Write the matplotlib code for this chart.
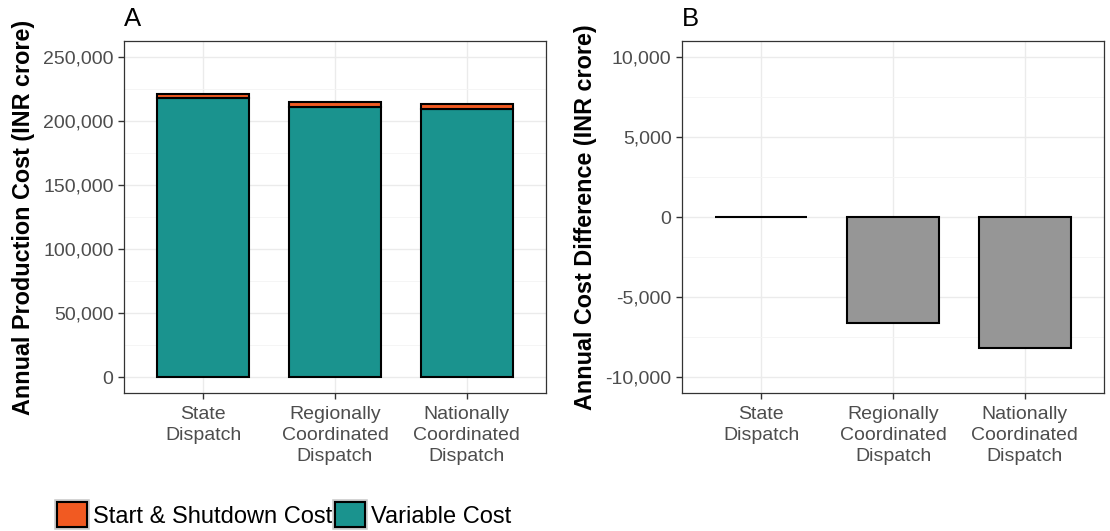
import matplotlib.pyplot as plt
import matplotlib.patheffects as pe
from matplotlib.patches import Patch
from matplotlib.ticker import FuncFormatter, MultipleLocator

plt.rcParams['font.family'] = ['Liberation Sans', 'DejaVu Sans']

scenarios = ["State\nDispatch", "Regionally\nCoordinated\nDispatch", "Nationally\nCoordinated\nDispatch"]
variable_cost = [217700, 210900, 209300]
start_cost = [3600, 3800, 3800]

total_cost = [v + s for v, s in zip(variable_cost, start_cost)]
cost_diff = [t - total_cost[0] for t in total_cost]

orange = "#F15A22"
teal = "#1A938E"
grey_bar = "#969696"
tick_col = "#4D4D4D"
frame_col = "#333333"

fig = plt.figure(figsize=(11.1, 5.31), dpi=100)
axA = fig.add_axes([124 / 1110, 138 / 531, 422 / 1110, 352 / 531])
axB = fig.add_axes([682 / 1110, 138 / 531, 422 / 1110, 352 / 531])

x = range(len(scenarios))
comma = FuncFormatter(lambda v, p: f"{v:,.0f}")


def style(ax):
    ax.set_xlim(-0.6, 2.6)
    ax.set_xticks(list(x))
    ax.set_xticklabels(scenarios, linespacing=1.3)
    ax.yaxis.set_major_formatter(comma)
    ax.grid(True, which="major", color="#EBEBEB", linewidth=1.0)
    ax.grid(True, which="minor", axis="y", color="#F4F4F4", linewidth=0.6)
    ax.set_axisbelow(True)
    ax.tick_params(axis="both", which="major", labelsize=14, labelcolor=tick_col,
                   color=frame_col, length=4, width=1)
    ax.tick_params(axis="x", which="major", pad=5.5)
    ax.tick_params(axis="y", which="minor", length=0)
    for s in ax.spines.values():
        s.set_color(frame_col)
        s.set_linewidth(0.9)


# panel A: stacked production cost
axA.bar(x, variable_cost, width=0.7, color=teal, edgecolor="black", linewidth=1.5, zorder=3)
axA.bar(x, start_cost, bottom=variable_cost, width=0.7, color=orange, edgecolor="black",
        linewidth=1.5, zorder=3)
axA.set_ylim(-12500, 262500)
axA.yaxis.set_major_locator(MultipleLocator(50000))
axA.yaxis.set_minor_locator(MultipleLocator(25000))
style(axA)
axA.set_ylabel("Annual Production Cost (INR crore)", fontsize=16.8, fontweight="bold", labelpad=6)

# panel B: difference against state dispatch
axB.bar(x, cost_diff, width=0.7, color=grey_bar, edgecolor="black", linewidth=1.5, zorder=3)
axB.set_ylim(-11000, 11000)
axB.yaxis.set_major_locator(MultipleLocator(5000))
axB.yaxis.set_minor_locator(MultipleLocator(2500))
style(axB)
axB.set_ylabel("Annual Cost Difference (INR crore)", fontsize=16.8, fontweight="bold", labelpad=6)

fig.text(124 / 1110, 505 / 531, "A", fontsize=18.5, va="baseline", ha="left")
fig.text(682 / 1110, 505 / 531, "B", fontsize=18.5, va="baseline", ha="left")

halo = [pe.withStroke(linewidth=4, foreground="#C8C8C8")]
handles = [Patch(facecolor=orange, edgecolor="black", linewidth=1.5, path_effects=halo),
           Patch(facecolor=teal, edgecolor="black", linewidth=1.5, path_effects=halo)]
fig.legend(handles, ["Start & Shutdown Cost", "Variable Cost"], ncol=2, frameon=False,
           loc="center left", bbox_to_anchor=(57 / 1110, 16 / 531), fontsize=17,
           handlelength=1.27, handleheight=1.27, handletextpad=0.25, columnspacing=0.13,
           borderpad=0, borderaxespad=0)

fig.savefig("out.png", dpi=100)
